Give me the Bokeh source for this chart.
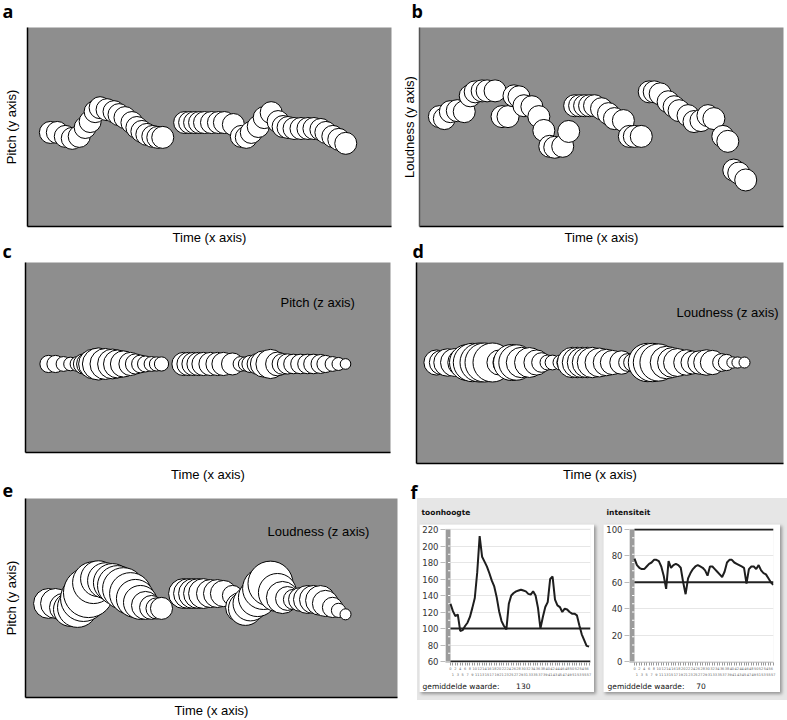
from bokeh.plotting import figure
from bokeh.layouts import row, column
from bokeh.models import Range1d, Label, LinearAxis, FixedTicker, Grid, Title, Spacer
from bokeh.embed import file_html
from bokeh.resources import INLINE

GRAY = "#8e8e8e"
BOX = "#e6e6e6"
LETTER_FONT = "Open Sans"
LABEL_FONT = "Liberation Sans"
SMALL_FONT = "DejaVu Sans"

# ---------------- data: pitch track (panels a, c, e) ----------------
a_time = [23, 30, 38, 45, 52, 58, 63, 68, 73, 80, 87, 92, 98, 105, 110, 115, 120, 126, 131, 136,
          158, 163, 168, 173, 178, 185, 192, 198, 207, 215, 220, 225, 232, 238, 245, 252, 257,
          262, 268, 275, 282, 288, 295, 300, 307, 313, 320]
a_pitch = [95, 95, 91, 89, 91, 100, 106, 116, 120, 118, 116, 113, 110, 105, 100, 96, 93, 91, 90, 90,
           105, 105, 105, 105, 105, 105, 105, 105, 103, 91, 90, 95, 101, 110, 115, 106, 101,
           100, 99, 99, 99, 99, 98, 95, 91, 88, 84]
# loudness at the pitch samples (panel e)
e_loud = [88, 88, 84, 97, 110, 123, 132, 114, 101, 101, 106, 110, 114, 114, 106, 97, 84, 75, 69, 71,
          88, 88, 88, 88, 88, 84, 84, 80, 67, 88, 97, 99, 106, 114, 121, 106, 93,
          75, 67, 75, 84, 84, 88, 80, 67, 54, 47]

# ---------------- data: loudness track (panels b, d) ----------------
b_time = [20, 25, 31, 38, 45, 51, 56, 63, 68, 76, 83, 89, 95, 100, 105, 113, 120, 125, 131, 136, 144, 150,
          156, 161, 166, 171, 176, 183, 190, 196, 205, 211, 216, 223,
          231, 236, 242, 250, 256, 261, 270, 276, 283, 290, 296, 305, 310, 316, 321, 328]
b_loud = [111, 109, 116, 117, 116, 132, 136, 137, 137, 137, 111, 111, 132, 131, 122, 121, 111, 97, 81, 80, 81, 96,
          122, 122, 122, 122, 122, 119, 114, 109, 107, 91, 91, 91,
          136, 136, 134, 126, 121, 117, 112, 106, 107, 112, 109, 91, 86, 57, 54, 47]

# ---------------- data: panel f ----------------
f_pitch = [130, 121, 115, 117, 97, 98, 103, 107, 114, 125,
           137, 168, 212, 187, 181, 175, 167, 158, 151, 138,
           121, 109, 103, 99, 130, 140, 143, 145, 146, 147,
           146, 145, 142, 141, 145, 140, 125, 100, 114, 126,
           132, 160, 163, 135, 128, 126, 120, 124, 123, 120,
           118, 118, 116, 104, 93, 86, 79, 78]
f_int = [78, 73, 71, 70, 70, 72, 74, 75, 77, 77,
         76, 72, 65, 55, 76, 71, 73, 74, 73, 71,
         60, 51, 63, 67, 70, 72, 73, 72, 71, 69,
         65, 72, 72, 70, 68, 66, 64, 68, 75, 77,
         77, 75, 74, 73, 72, 71, 59, 70, 72, 72,
         70, 73, 69, 67, 66, 63, 60, 58]
f_pitch_ticks = [60, 80, 100, 120, 140, 160, 180, 200, 220]
f_int_ticks = [0, 20, 40, 60, 80, 100]
thresholds = [60, 100]
f_titles = ["toonhoogte", "intensiteit"]
f_means = ["130", "70"]
letters = ["a", "b", "c", "d", "e", "f"]


def pitch_size(p):
    return 13 + (p - 88) * 0.6


def loud_size_d(v):
    return 11 + 28 * ((v - 47) / 90.0) ** 2


def loud_size_e(v):
    return 11 + (v - 47) * 0.46


def strip(h, items, overlap_top=0, overlap_bottom=0):
    """full-width transparent strip carrying the panel letters"""
    p = figure(width=787, height=h, x_range=Range1d(0, 787), y_range=Range1d(0, h),
               x_axis_type=None, y_axis_type=None, toolbar_location=None,
               output_backend="svg", min_border=0,
               margin=(-overlap_top, 0, -overlap_bottom, 0))
    p.background_fill_alpha = 0
    p.border_fill_alpha = 0
    p.outline_line_color = None
    for txt, x, y in items:
        p.add_layout(Label(x=x, y=y, text=txt, text_font=LETTER_FONT, text_font_size="18px",
                           text_font_style="bold", text_baseline="alphabetic", text_color="black"))
    return p


def bubble_panel(w, h, bl, br, bb, xr, yr, xs, ys, sizes, ylabel, xstand, ystand, left_color="black"):
    p = figure(width=w, height=h, x_range=Range1d(*xr), y_range=Range1d(*yr),
               x_axis_type=None, y_axis_type=None, toolbar_location=None,
               output_backend="svg", min_border_left=bl, min_border_right=br,
               min_border_top=0, min_border_bottom=bb)
    p.background_fill_color = GRAY
    p.border_fill_color = "white"
    p.outline_line_color = None
    xa = LinearAxis(ticker=FixedTicker(ticks=[]), axis_label="Time (x axis)",
                    axis_label_text_font=LABEL_FONT, axis_label_text_font_size="13px",
                    axis_label_text_font_style="normal", axis_label_text_color="black",
                    axis_label_standoff=xstand, axis_line_color="black", axis_line_width=1.5,
                    major_tick_out=0, major_tick_in=0, minor_tick_out=0, minor_tick_in=0)
    p.add_layout(xa, "below")
    ya = LinearAxis(ticker=FixedTicker(ticks=[]), axis_label=ylabel,
                    axis_label_text_font=LABEL_FONT, axis_label_text_font_size="13px",
                    axis_label_text_font_style="normal", axis_label_text_color="black",
                    axis_label_standoff=ystand, axis_line_color=left_color, axis_line_width=1.5,
                    major_tick_out=0, major_tick_in=0, minor_tick_out=0, minor_tick_in=0)
    p.add_layout(ya, "left")
    p.scatter(xs, ys, size=sizes, fill_color="white", line_color="black", line_width=1)
    return p


def ztext(p, txt, x, y, align="left"):
    p.add_layout(Label(x=x, y=y, text=txt, text_font=LABEL_FONT, text_font_size="13px",
                       text_baseline="middle", text_align=align, text_color="black"))


# panel a
fa = bubble_panel(398, 220, 25, 7, 19, (0, 366), (0, 201), a_time, a_pitch,
                  [22] * len(a_time), "Pitch (y axis)", 3, 9)
# panel b
fb = bubble_panel(389, 220, 19, 4, 19, (0, 366), (0, 201), b_time, b_loud,
                  [22] * len(b_time), "Loudness (y axis)", 3, 3, left_color="#555555")
# panel c
fc = bubble_panel(398, 222, 25, 8, 31, (0, 365), (-89, 102), a_time, [0] * len(a_time),
                  [pitch_size(v) for v in a_pitch], None, 14, 0)
ztext(fc, "Pitch (z axis)", 255, 62)
# panel d
fd = bubble_panel(389, 222, 18, 4, 19, (0, 367), (-102, 101), b_time, [0] * len(b_time),
                  [loud_size_d(v) for v in b_loud], None, 3, 0)
ztext(fd, "Loudness (z axis)", 362, 51, align="right")
# panel e
fe = bubble_panel(405, 222, 25, 8, 21, (0, 372), (0, 201), a_time, a_pitch,
                  [loud_size_e(v) for v in e_loud], "Pitch (y axis)", 5, 7)
ztext(fe, "Loudness (z axis)", 242, 168)

s1 = strip(27, [(letters[0], 2, 17), (letters[1], 411, 17)])
s2 = strip(32, [(letters[2], 2, 12), (letters[3], 412, 12)], overlap_top=17)
s3 = strip(38, [(letters[4], 2, 16), (letters[5], 410, 15)], overlap_top=16, overlap_bottom=8)


# panel f
def title_fig(txt, w, x):
    p = figure(width=w, height=26, x_range=Range1d(0, w), y_range=Range1d(0, 26),
               x_axis_type=None, y_axis_type=None, toolbar_location=None,
               output_backend="svg", min_border=0)
    p.background_fill_color = BOX
    p.border_fill_color = BOX
    p.outline_line_color = None
    p.add_layout(Label(x=x, y=12, text=txt, text_font=SMALL_FONT, text_font_size="7.5px",
                       text_font_style="bold", text_baseline="alphabetic", text_color="#111111"))
    return p


def f_chart(values, ticks, w, x_end, bl, br, mean_txt, gap):
    idx = list(range(len(values)))
    span = ticks[-1] - ticks[0]
    pad = span / 132.0
    x_start = -2.05
    p = figure(width=w, height=168, x_range=Range1d(x_start, x_end),
               y_range=Range1d(ticks[0] - pad, ticks[-1] + pad),
               x_axis_type=None, y_axis_type=None, toolbar_location=None, output_backend="svg",
               min_border_left=bl, min_border_right=br, min_border_top=4, min_border_bottom=30,
               styles={"box-shadow": "2px 2px 3px rgba(0,0,0,0.35)"})
    p.background_fill_color = "white"
    p.border_fill_color = "white"
    p.outline_line_color = None
    p.add_layout(Grid(dimension=1, ticker=FixedTicker(ticks=ticks), grid_line_color="#e6e6e6"))
    ya = LinearAxis(ticker=FixedTicker(ticks=ticks), major_label_text_font=SMALL_FONT,
                    major_label_text_font_size="8.5px", major_label_text_color="#333333",
                    axis_line_color=None, major_tick_line_color="#bbbbbb", major_tick_out=5,
                    major_tick_in=0, minor_tick_line_color=None, major_label_standoff=2)
    p.add_layout(ya, "left")
    x1 = LinearAxis(ticker=FixedTicker(ticks=idx),
                    major_label_overrides={i: "" for i in idx if i % 2 == 1},
                    major_label_text_font=SMALL_FONT, major_label_text_font_size="3.5px",
                    major_label_text_color="#666666", axis_line_color="#cccccc",
                    major_tick_line_color="#999999", major_tick_out=3, major_tick_in=0,
                    minor_tick_line_color=None, major_label_standoff=1)
    p.add_layout(x1, "below")
    x2 = LinearAxis(ticker=FixedTicker(ticks=[i for i in idx if i % 2 == 1]),
                    major_label_text_font=SMALL_FONT, major_label_text_font_size="3.5px",
                    major_label_text_color="#666666", axis_line_color=None,
                    major_tick_line_color=None, major_tick_out=0, major_tick_in=0,
                    minor_tick_line_color=None, major_label_standoff=0)
    p.add_layout(x2, "below")
    p.add_layout(Title(text="gemiddelde waarde:" + "\u00a0" * gap + mean_txt, align="left",
                       offset=-(bl - 3), text_font=SMALL_FONT, text_font_size="7.5px",
                       text_font_style="normal", text_color="#111111", standoff=3), "below")
    # grey scale bar with marks
    p.quad(left=[x_start], right=[0], bottom=[ticks[0]], top=[ticks[-1]],
           fill_color="#9b9b9b", line_color=None)
    marks = [ticks[0] + k * span / 16.0 for k in range(1, 16)]
    p.segment(x0=[-1.0] * len(marks), x1=[0] * len(marks), y0=marks, y1=marks,
              line_color="white", line_width=1)
    for thr in thresholds:
        p.segment(x0=[0], x1=[x_end], y0=[thr], y1=[thr], line_color="#222222", line_width=2)
    p.line(idx, values, line_color="#1e1e1e", line_width=2)
    return p


t_l = title_fig(f_titles[0], 175, 2)
t_r = title_fig(f_titles[1], 177, 3)
c_l = f_chart(f_pitch, f_pitch_ticks, 175, 57.6, 26, 4, f_means[0], 7)
c_r = f_chart(f_int, f_int_ticks, 177, 57.1, 25, 7, f_means[1], 5)

fbox = column(
    row(Spacer(width=2), t_l, Spacer(width=9), t_r, Spacer(width=7)),
    row(Spacer(width=2), c_l, Spacer(width=9), c_r, Spacer(width=7)),
    Spacer(height=8),
    styles={"background-color": BOX},
)

root = column(
    s1,
    row(column(fa), column(fb)),
    s2,
    row(column(fc), column(fd)),
    s3,
    row(fe, Spacer(width=12), column(fbox, Spacer(height=20))),
)

open("out.html", "w").write(file_html(root, INLINE))
